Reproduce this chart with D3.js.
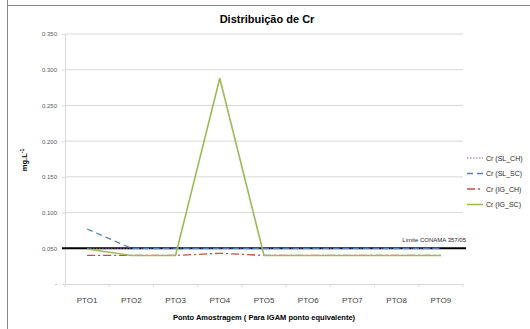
<!DOCTYPE html>
<html>
<head>
<meta charset="utf-8">
<script src="https://cdn.jsdelivr.net/npm/d3@7"></script>
<style>
  body { margin: 0; background: #fff; }
  svg { display: block; font-family: "Liberation Sans", Arial, sans-serif; }
</style>
</head>
<body>
<svg></svg>
<script>
const categories = ["PTO1", "PTO2", "PTO3", "PTO4", "PTO5", "PTO6", "PTO7", "PTO8", "PTO9"];
const slCh = [0.05, 0.05, 0.05, 0.05, 0.05, 0.05, 0.05, 0.05, 0.05];
const slSc = [0.077, 0.05, 0.05, 0.05, 0.05, 0.05, 0.05, 0.05, 0.05];
const igCh = [0.04, 0.04, 0.04, 0.043, 0.04, 0.04, 0.04, 0.04, 0.04];
const igSc = [0.049, 0.04, 0.04, 0.288, 0.04, 0.04, 0.04, 0.04, 0.04];
const yTicks = [0, 0.05, 0.1, 0.15, 0.2, 0.25, 0.3, 0.35];
const limit = 0.05;

const series = [
  { name: "Cr (SL_CH)", values: slCh, color: "#8064A2", dash: "1.5,1.5", width: 1 },
  { name: "Cr (SL_SC)", values: slSc, color: "#4F81BD", dash: "6,4", width: 1.3 },
  { name: "Cr (IG_CH)", values: igCh, color: "#C0504D", dash: "8,3,2,3", width: 1.3 },
  { name: "Cr (IG_SC)", values: igSc, color: "#9BBB59", dash: null, width: 1.6 },
];

const svg = d3.select("svg").attr("width", 530).attr("height", 329);

const margin = { top: 34, left: 65, right: 67, bottom: 45 };
const innerWidth = 530 - margin.left - margin.right;
const innerHeight = 329 - margin.top - margin.bottom;

// frame
svg.append("line").attr("x1", 7).attr("x2", 530).attr("y1", 5.5).attr("y2", 5.5)
  .attr("stroke", "#868686").attr("stroke-width", 1);
svg.append("line").attr("x1", 7.5).attr("x2", 7.5).attr("y1", 0).attr("y2", 329)
  .attr("stroke", "#868686").attr("stroke-width", 1);

const xScale = d3.scaleBand().domain(categories).range([0, innerWidth]);
const yScale = d3.scaleLinear().domain([0, 0.35]).range([innerHeight, 0]);

const g = svg.append("g").attr("transform", `translate(${margin.left}, ${margin.top})`);

// gridlines
g.selectAll(".grid")
  .data(yTicks.filter((d) => d > 0))
  .enter()
  .append("line")
  .attr("x1", 0)
  .attr("x2", innerWidth)
  .attr("y1", (d) => yScale(d))
  .attr("y2", (d) => yScale(d))
  .attr("stroke", "#d9d9d9")
  .attr("stroke-width", 1);

// y axis
const yAxis = d3.axisLeft(yScale).tickValues(yTicks).tickSize(3)
  .tickFormat((d) => (d === 0 ? "-     " : d3.format(".3f")(d)));
g.append("g").attr("id", "y-axis").call(yAxis)
  .call((a) => a.select(".domain").attr("stroke", "#d9d9d9"))
  .call((a) => a.selectAll(".tick line").attr("stroke", "#d9d9d9"))
  .call((a) => a.selectAll("text").attr("fill", "#595959").style("font-size", "6px").attr("x", -8));

// x axis
const xAxis = d3.axisBottom(xScale).tickSize(0).tickPadding(13);
const xg = g.append("g").attr("id", "x-axis").attr("transform", `translate(0, ${innerHeight})`).call(xAxis);
xg.select(".domain").attr("stroke", "#d9d9d9");
xg.selectAll("text").attr("fill", "#404040").style("font-size", "8px");
xg.selectAll(".xt")
  .data(categories.concat([null]))
  .enter()
  .append("line")
  .attr("x1", (d, i) => i * xScale.step())
  .attr("x2", (d, i) => i * xScale.step())
  .attr("y1", 0)
  .attr("y2", 3)
  .attr("stroke", "#d9d9d9");

// limit line
g.append("line")
  .attr("x1", -3)
  .attr("x2", innerWidth + 3)
  .attr("y1", yScale(limit))
  .attr("y2", yScale(limit))
  .attr("stroke", "#000")
  .attr("stroke-width", 2);
g.append("text")
  .attr("x", innerWidth + 3)
  .attr("y", yScale(limit) - 6)
  .attr("text-anchor", "end")
  .style("font-size", "6px")
  .attr("fill", "#262626")
  .text("Limite CONAMA 357/05");

// series
const line = d3.line()
  .x((d, i) => xScale(categories[i]) + xScale.bandwidth() / 2)
  .y((d) => yScale(d));

g.selectAll(".series")
  .data(series)
  .enter()
  .append("path")
  .attr("class", "series")
  .attr("d", (d) => line(d.values))
  .attr("fill", "none")
  .attr("stroke", (d) => d.color)
  .attr("stroke-width", (d) => d.width)
  .attr("stroke-dasharray", (d) => d.dash);

// title
svg.append("text")
  .attr("x", 267)
  .attr("y", 23)
  .attr("text-anchor", "middle")
  .style("font-size", "11px")
  .style("font-weight", "bold")
  .attr("fill", "#000")
  .text("Distribuição de Cr");

// axis titles
svg.append("text")
  .attr("x", 264)
  .attr("y", 320)
  .attr("text-anchor", "middle")
  .style("font-size", "7.5px")
  .style("font-weight", "bold")
  .attr("fill", "#000")
  .text("Ponto Amostragem ( Para IGAM ponto equivalente)");

const yt = svg.append("text")
  .attr("transform", "translate(27, 160) rotate(-90)")
  .attr("text-anchor", "middle")
  .style("font-size", "7.5px")
  .style("font-weight", "bold")
  .attr("fill", "#000");
yt.append("tspan").text("mg.L");
yt.append("tspan").attr("dy", -3).style("font-size", "5px").text("-1");

// legend
const legend = svg.append("g").attr("transform", "translate(467, 158)");
const items = legend.selectAll(".item")
  .data(series)
  .enter()
  .append("g")
  .attr("transform", (d, i) => `translate(0, ${i * 15.5})`);
items.append("line")
  .attr("x1", 0)
  .attr("x2", 16)
  .attr("stroke", (d) => d.color)
  .attr("stroke-width", (d) => d.width)
  .attr("stroke-dasharray", (d) => d.dash);
items.append("text")
  .attr("x", 19)
  .attr("y", 2.5)
  .style("font-size", "7px")
  .attr("fill", "#262626")
  .text((d) => d.name);
</script>
</body>
</html>
